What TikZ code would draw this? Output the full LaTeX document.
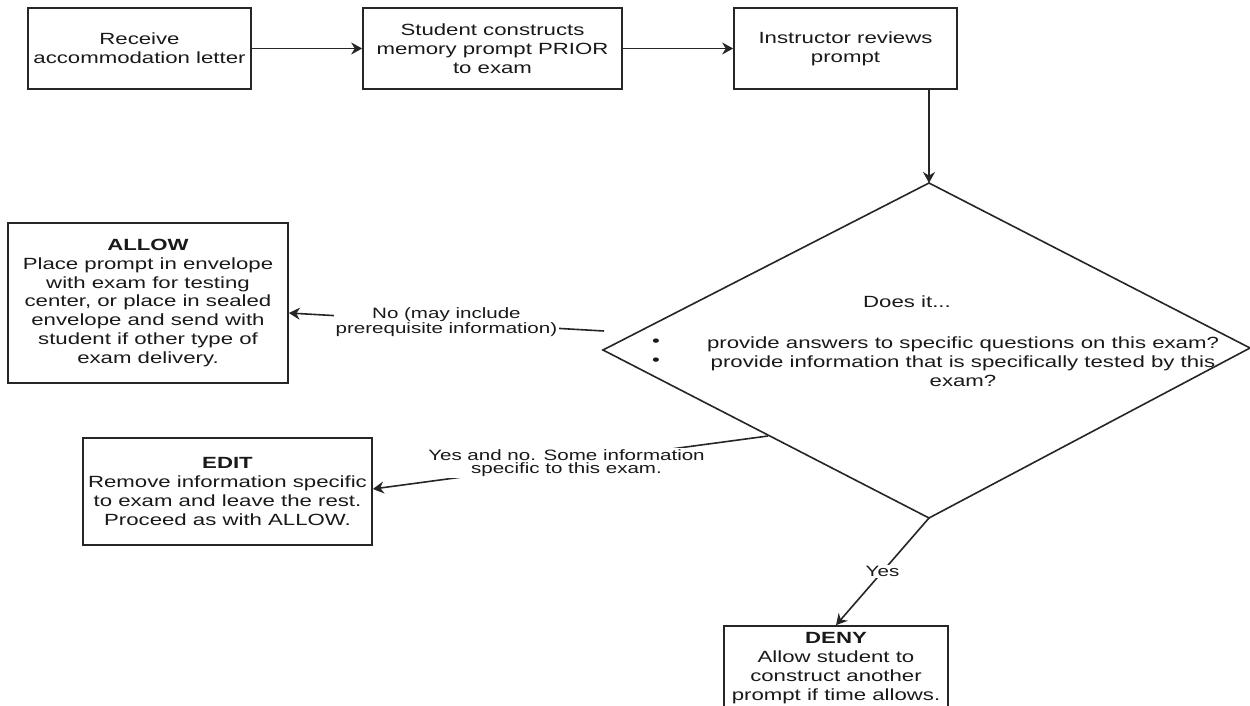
\documentclass[tikz,border=0pt]{standalone}
\usepackage{fontspec}
\setmainfont{Liberation Sans}[FakeStretch=1.37]
\usetikzlibrary{arrows.meta}
\begin{document}
\begin{tikzpicture}[x=1pt,y=-1pt,
  box/.style={draw=black!85, line width=1.7pt, fill=white, align=center, text=black!90,
    font=\fontsize{16.2}{18.8}\selectfont, inner sep=0pt},
  shapeline/.style={draw=black!85, line width=1.6pt},
  conn/.style={draw=black!85, line width=1.6pt, -{Stealth[length=11pt,width=12pt]}},
  lbl/.style={fill=white, align=center, text=black!90, font=\fontsize{15}{13.5}\selectfont, inner sep=1.5pt},
  qtxt/.style={align=center, text=black!90, font=\fontsize{16.2}{18.8}\selectfont, inner sep=0pt}]
\clip (0,0) rectangle (1250,706);
\fill[white] (0,0) rectangle (1250,706);
% top row
\node[box, minimum width=223pt, minimum height=81pt] (b1) at (139.5,48.5) {Receive\\accommodation letter};
\node[box, minimum width=259pt, minimum height=81pt] (b2) at (492.5,48.5) {Student constructs\\memory prompt PRIOR\\to exam};
\node[box, minimum width=223pt, minimum height=81pt] (b3) at (845.5,48.5) {Instructor reviews\\prompt};
% decision diamond
\coordinate (dt) at (929,183);
\coordinate (dl) at (603,350);
\coordinate (db) at (929,518);
\coordinate (dr) at (1250,348);
\draw[shapeline] (dt) -- (dr) -- (db) -- (dl) -- cycle;
\node[qtxt] (q) at (907,302) {Does it...};
\node[qtxt] (qtext) at (963,362) {provide answers to specific questions on this exam?\\provide information that is specifically tested by this\\exam?};
\node[qtxt] (bul1) at (656,343) {\textbullet};
\node[qtxt] (bul2) at (656,362) {\textbullet};
% outcome boxes
\node[box, minimum width=280pt, minimum height=160pt] (allow) at (148,303) {\textbf{ALLOW}\\Place prompt in envelope\\with exam for testing\\center, or place in sealed\\envelope and send with\\student if other type of\\exam delivery.};
\node[box, minimum width=289pt, minimum height=107pt] (edit) at (227.5,491.5) {\textbf{EDIT}\\Remove information specific\\to exam and leave the rest.\\Proceed as with ALLOW.};
\node[box, minimum width=224pt, minimum height=84pt] (deny) at (836,668) {\textbf{DENY}\\Allow student to\\construct another\\prompt if time allows.};
% connectors
\draw[conn] (b1) -- (b2);
\draw[conn] (b2) -- (b3);
\draw[conn] (b3.south -| dt) -- (dt);
\coordinate (nostart) at (604,331);
\draw[conn] (nostart) -- node[lbl] (lno) {No (may include\\prerequisite information)} ([yshift=-10pt]allow.east);
\coordinate (ynstart) at (768,436);
\draw[conn] (ynstart) -- node[lbl, pos=0.51] (lyn) {Yes and no. Some information\\specific to this exam.} ([yshift=2.5pt]edit.east);
\draw[conn] (db) -- node[lbl] (lyes) {Yes} (deny.north);
\end{tikzpicture}
\end{document}
